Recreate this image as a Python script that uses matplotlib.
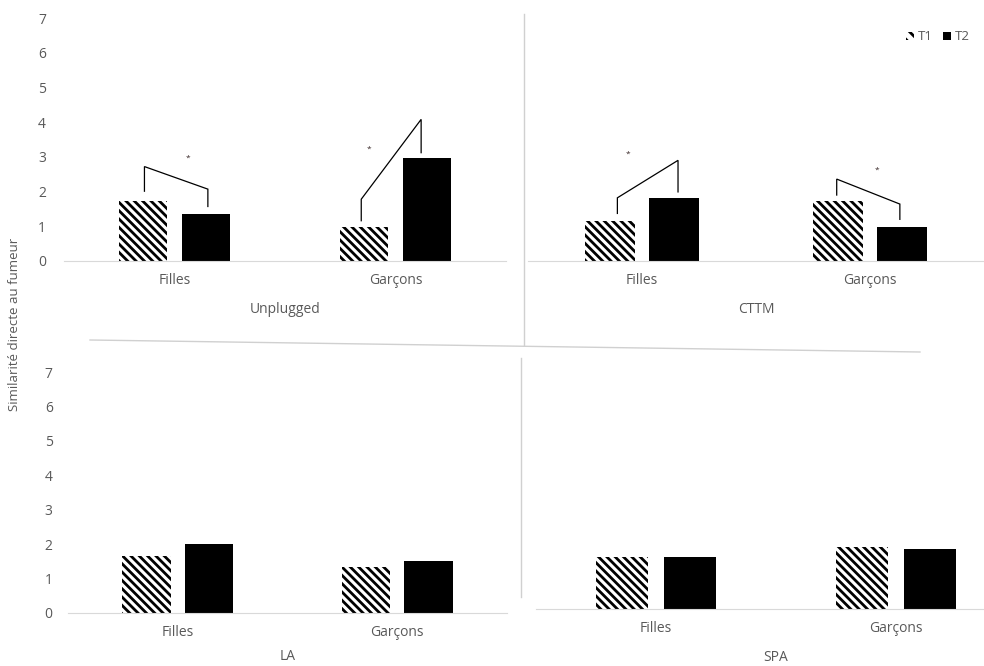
import matplotlib
matplotlib.use("Agg")
import matplotlib.pyplot as plt
from matplotlib.patches import Patch
from matplotlib.lines import Line2D

plt.rcParams['font.family'] = ['Open Sans', 'DejaVu Sans']
plt.rcParams['hatch.linewidth'] = 2.0

groups = ["Filles", "Garçons"]
panels = ["Unplugged", "CTTM", "LA", "SPA"]
t1 = {"Unplugged": [1.73, 0.97], "CTTM": [1.15, 1.73], "LA": [1.67, 1.33], "SPA": [1.52, 1.79]}
t2 = {"Unplugged": [1.35, 2.97], "CTTM": [1.81, 0.97], "LA": [2.00, 1.50], "SPA": [1.52, 1.75]}
yticks = [0, 1, 2, 3, 4, 5, 6, 7]
ylabel = "Similarité directe au fumeur"

# significance brackets: (x1, x2, y1 bottom, y1 top, y2 top, y2 bottom, star x, star y)
brackets = {
    "Unplugged": [(-0.136, 0.151, 2.01, 2.72, 2.07, 1.57, 0.063, 2.97),
                  (0.845, 1.116, 1.16, 1.78, 4.08, 3.12, 0.878, 3.23)],
    "CTTM": [(-0.108, 0.158, 1.37, 1.82, 2.90, 1.99, -0.06, 3.08),
             (0.854, 1.131, 1.90, 2.36, 1.64, 1.20, 1.029, 2.62)],
    "LA": [],
    "SPA": [],
}

W, H = 984, 666
fig = plt.figure(figsize=(W / 100, H / 100), dpi=100)

# pixel boxes: left, right, top (y=7), bottom (y=0)
boxes = {
    "Unplugged": (64, 506, 18, 261),
    "CTTM": (528, 984, 18, 261),
    "LA": (68, 507, 372, 613),
    "SPA": (536, 1016, 368, 609),
}
show_y = {"Unplugged": True, "CTTM": False, "LA": True, "SPA": False}
grey = "#595959"
width = 0.22
off = 0.142

for name in panels:
    l, r, t, b = boxes[name]
    ax = fig.add_axes([l / W, 1 - b / H, (r - l) / W, (b - t) / H])
    xs = range(len(groups))
    ax.bar([x - off for x in xs], t1[name], width, facecolor="white",
           edgecolor="black", linewidth=0, hatch="\\\\\\\\")
    ax.bar([x + off for x in xs], t2[name], width, color="black")
    for x1, x2, a, bb, c, d, sx, sy in brackets[name]:
        ax.plot([x1, x1, x2, x2], [a, bb, c, d], color="black", lw=0.9,
                solid_joinstyle="miter", clip_on=False)
        ax.text(sx, sy, "*", ha="center", va="center", fontsize=6,
                color="#3a2a2a")
    ax.set_xlim(-0.5, 1.5)
    ax.set_ylim(0, 7)
    for s in ["top", "left", "right"]:
        ax.spines[s].set_visible(False)
    ax.spines["bottom"].set_color("#d9d9d9")
    ax.set_xticks(list(xs))
    ax.set_xticklabels(groups)
    ax.tick_params(length=0, colors=grey, labelsize=10)
    ax.tick_params(axis="x", pad=9)
    if show_y[name]:
        ax.set_yticks(yticks)
        ax.tick_params(axis="y", pad=13 if name == "Unplugged" else 11)
    else:
        ax.set_yticks([])
    ax.set_xlabel(name, color=grey, fontsize=10, labelpad=6 if name == "LA" else 10)

fig.text(15 / W, 1 - 324 / H, ylabel, rotation=90, ha="center", va="center",
         color=grey, fontsize=9.5)

# separator lines between the pasted panels
for xs_, ys_ in [([90, 920], [340, 352]), ([524, 524], [14, 345]), ([521, 521], [358, 597])]:
    fig.add_artist(Line2D([x / W for x in xs_], [1 - y / H for y in ys_],
                          color="#d0d0d0", lw=1))

handles = [Patch(facecolor="white", edgecolor="black", linewidth=0, hatch="\\\\\\"),
           Patch(facecolor="black")]
leg = fig.legend(handles, ["T1", "T2"], loc="center right", ncol=2,
                 bbox_to_anchor=(982 / W, 1 - 37 / H), frameon=False, fontsize=9.5,
                 handlelength=0.6, handleheight=0.6, handletextpad=0.3,
                 columnspacing=0.8, labelcolor=grey)

fig.savefig("out.png", dpi=100)
